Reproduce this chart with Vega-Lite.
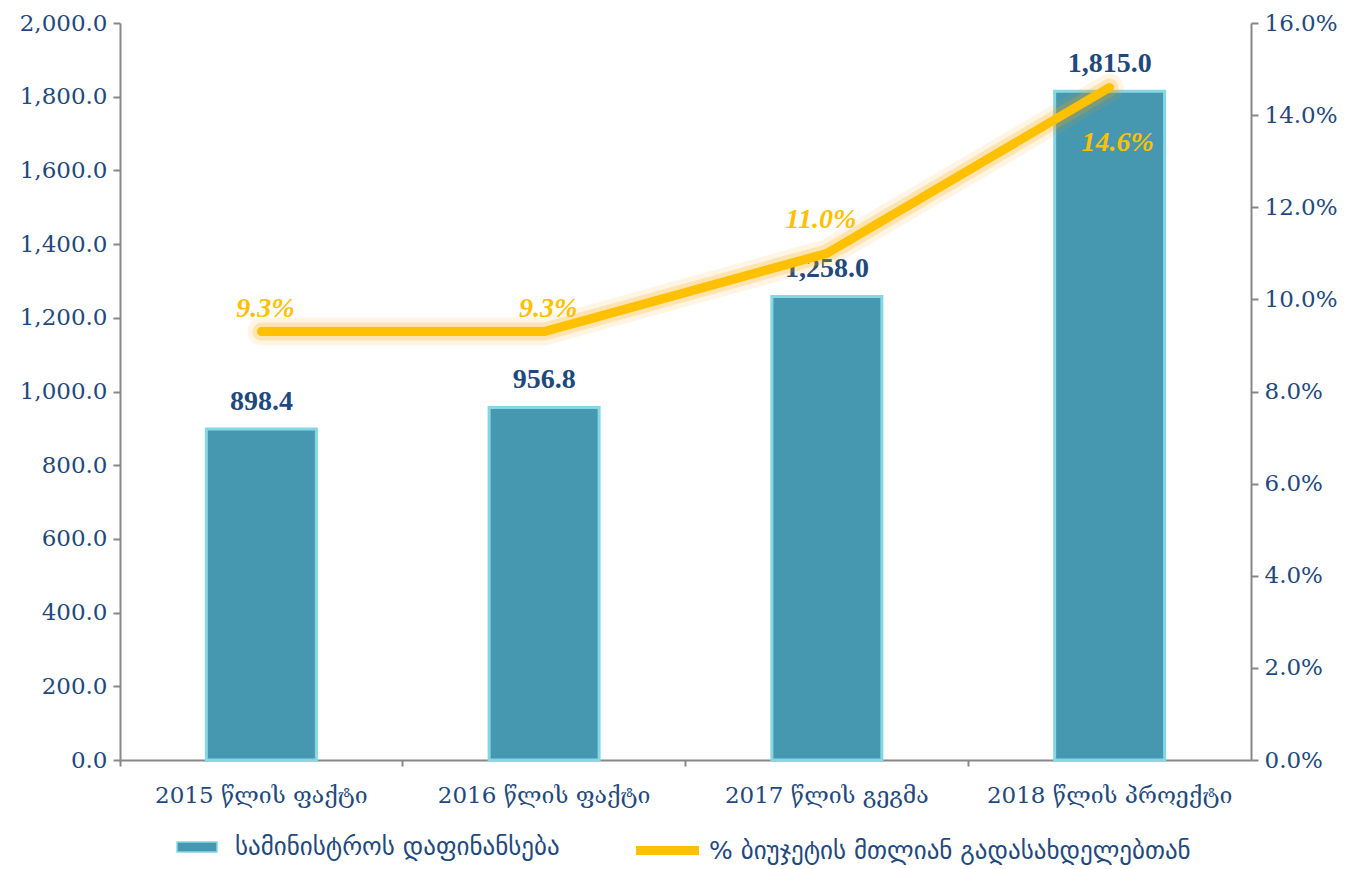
{
  "$schema": "https://vega.github.io/schema/vega-lite/v6.json",
  "width": 1364,
  "height": 869,
  "autosize": {"type": "fit", "contains": "padding"},
  "padding": {"left": 19, "right": 26, "top": 12, "bottom": 0},
  "background": "white",
  "config": {
    "view": {"stroke": null},
    "font": "DejaVu Serif",
    "axis": {"labelFont": "DejaVu Serif", "labelFontSize": 23, "labelColor": "#1f497d", "domainColor": "#878787", "domainWidth": 2, "tickColor": "#878787", "tickWidth": 2, "grid": false, "labelLimit": 500},
    "legend": {"padding": 0, "layout": {"bottom": {"anchor": "middle", "direction": "horizontal", "margin": 88}}}
  },
  "data": {"values": [
    {"year": "2015 წლის ფაქტი", "funding": 898.4, "share": 0.093, "bar": "სამინისტროს დაფინანსება", "ln": "% ბიუჯეტის მთლიან გადასახდელებთან"},
    {"year": "2016 წლის ფაქტი", "funding": 956.8, "share": 0.093, "bar": "სამინისტროს დაფინანსება", "ln": "% ბიუჯეტის მთლიან გადასახდელებთან"},
    {"year": "2017 წლის გეგმა", "funding": 1258.0, "share": 0.110, "bar": "სამინისტროს დაფინანსება", "ln": "% ბიუჯეტის მთლიან გადასახდელებთან"},
    {"year": "2018 წლის პროექტი", "funding": 1815.0, "share": 0.146, "bar": "სამინისტროს დაფინანსება", "ln": "% ბიუჯეტის მთლიან გადასახდელებთან"}
  ]},
  "encoding": {
    "x": {"field": "year", "type": "nominal", "sort": null, "title": null,
      "scale": {"paddingInner": 0, "paddingOuter": 0},
      "axis": {"labelAngle": 0, "labelPadding": 18, "tickSize": 6, "bandPosition": 0, "labelFontSize": 23}}
  },
  "layer": [
    {
      "layer": [
        {
          "mark": {"type": "bar", "size": 110, "stroke": "#86d6e6", "strokeWidth": 3},
          "encoding": {
            "y": {"field": "funding", "type": "quantitative", "title": null,
              "scale": {"domain": [0, 2000]},
              "axis": {"format": ",.1f", "values": [0,200,400,600,800,1000,1200,1400,1600,1800,2000], "tickSize": 7, "labelPadding": 6, "orient": "left"}},
            "color": {"field": "bar", "type": "nominal", "title": null,
              "scale": {"range": ["#4598b0"]},
              "legend": {"orient": "bottom", "offset": 24, "symbolType": "M-1.333,-0.333H1.333V0.333H-1.333Z", "symbolSize": 900, "symbolStrokeColor": "#86d6e6", "symbolStrokeWidth": 1.5, "labelOffset": 22, "labelFontSize": 25, "labelColor": "#1f497d", "labelFont": "DejaVu Sans", "labelLimit": 600}}
          }
        },
        {
          "mark": {"type": "text", "dy": -27, "fontSize": 28, "fontWeight": "bold", "color": "#1f497d", "font": "Liberation Serif"},
          "encoding": {
            "y": {"field": "funding", "type": "quantitative"},
            "text": {"field": "funding", "type": "quantitative", "format": ",.1f"}
          }
        }
      ]
    },
    {
      "layer": [
        {
          "mark": {"type": "line", "strokeWidth": 28, "opacity": 0.1, "color": "#ffa000", "strokeCap": "round", "strokeJoin": "round"},
          "encoding": {
            "y": {"field": "share", "type": "quantitative"}
          }
        },
        {
          "mark": {"type": "line", "strokeWidth": 18, "opacity": 0.22, "color": "#ffa800", "strokeCap": "round", "strokeJoin": "round"},
          "encoding": {
            "y": {"field": "share", "type": "quantitative"}
          }
        },
        {
          "mark": {"type": "line", "strokeWidth": 9, "strokeCap": "round", "strokeJoin": "round"},
          "encoding": {
            "y": {"field": "share", "type": "quantitative", "title": null,
              "scale": {"domain": [0, 0.16]},
              "axis": {"format": ".1%", "values": [0,0.02,0.04,0.06,0.08,0.1,0.12,0.14,0.16], "orient": "right", "tickSize": 7, "labelPadding": 6}},
            "stroke": {"field": "ln", "type": "nominal", "title": null,
              "scale": {"range": ["#ffc000"]},
              "legend": {"orient": "bottom", "offset": 24, "symbolType": "M-2.1,0H2.1", "symbolSize": 900, "symbolStrokeWidth": 9, "labelOffset": 22, "labelFontSize": 25, "labelColor": "#1f497d", "labelFont": "DejaVu Sans", "labelLimit": 700}}
          }
        },
        {
          "transform": [{"filter": "datum.share < 0.1"}],
          "mark": {"type": "text", "dy": -23, "dx": 4, "fontSize": 28, "fontWeight": "bold", "fontStyle": "italic", "color": "#ffc000", "font": "Liberation Serif"},
          "encoding": {
            "y": {"field": "share", "type": "quantitative"},
            "text": {"field": "share", "type": "quantitative", "format": ".1%"}
          }
        },
        {
          "transform": [{"filter": "datum.share >= 0.1 && datum.share < 0.14"}],
          "mark": {"type": "text", "dy": -33, "dx": -6, "fontSize": 28, "fontWeight": "bold", "fontStyle": "italic", "color": "#ffc000", "font": "Liberation Serif"},
          "encoding": {
            "y": {"field": "share", "type": "quantitative"},
            "text": {"field": "share", "type": "quantitative", "format": ".1%"}
          }
        },
        {
          "transform": [{"filter": "datum.share >= 0.14"}],
          "mark": {"type": "text", "dy": 56, "dx": 8, "fontSize": 28, "fontWeight": "bold", "fontStyle": "italic", "color": "#ffc000", "font": "Liberation Serif"},
          "encoding": {
            "y": {"field": "share", "type": "quantitative"},
            "text": {"field": "share", "type": "quantitative", "format": ".1%"}
          }
        }
      ]
    }
  ],
  "resolve": {"scale": {"y": "independent"}}
}
